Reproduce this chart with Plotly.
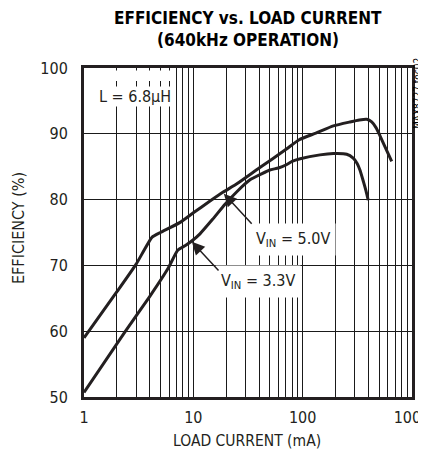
import math
import plotly.graph_objects as go

# ---- data ----
load_5v0 = [1, 2, 3, 4.2, 5, 7.5, 10, 14, 18.6, 25, 40, 70, 93, 132, 191, 271, 330, 385, 428, 470, 510, 560, 652]
eff_5v0 = [59.0, 66.0, 70.2, 74.3, 75.0, 76.5, 78.0, 79.7, 81.1, 82.4, 84.8, 87.6, 89.1, 90.1, 91.2, 91.8, 92.1, 92.2, 91.8, 90.9, 89.7, 88.2, 85.8]

load_3v3 = [1, 2.37, 4.0, 5.9, 7.2, 8.6, 10, 11.5, 15, 19.5, 25, 33, 42, 50, 60, 71, 80, 95, 144, 191, 253, 290, 315, 334, 360, 380, 398]
eff_3v3 = [50.7, 59.9, 65.3, 69.6, 72.3, 73.1, 73.9, 74.8, 77.0, 79.3, 81.2, 83.0, 83.9, 84.5, 84.8, 85.3, 85.8, 86.2, 86.8, 87.0, 86.9, 86.3, 85.5, 84.5, 82.7, 81.3, 79.9]

x_tick_values = [m * 10 ** k for k in range(3) for m in range(1, 10)] + [1000]
x_tick_labels = [str(v) if v in (1, 10, 100, 1000) else "" for v in x_tick_values]
y_tick_values = [50, 60, 70, 80, 90, 100]

NARROW = "DejaVu Sans Condensed, Liberation Sans Narrow, sans-serif"
INK = "#231f20"

# the page body adds an 8px offset; figure is sized so it ends at the window edge
OFF = 8
W, H = 426 - OFF, 458 - OFF
PL, PR, PT, PB = 84, 412, 68, 397   # plot area in page pixels

fig = go.Figure()
fig.add_trace(go.Scatter(x=load_5v0, y=eff_5v0, mode="lines",
                         line=dict(color=INK, width=3, shape="spline", smoothing=0.5),
                         name="VIN = 5.0V", hoverinfo="skip"))
fig.add_trace(go.Scatter(x=load_3v3, y=eff_3v3, mode="lines",
                         line=dict(color=INK, width=3, shape="spline", smoothing=0.5),
                         name="VIN = 3.3V", hoverinfo="skip"))

fig.update_layout(
    width=W, height=H,
    margin=dict(l=PL - OFF, r=W - (PR - OFF), t=PT - OFF, b=H - (PB - OFF), pad=0),
    paper_bgcolor="white", plot_bgcolor="white",
    showlegend=False,
    font=dict(family=NARROW, size=17, color=INK),
)
fig.update_xaxes(type="log", range=[0, 3], tickvals=x_tick_values, ticktext=x_tick_labels,
                 showgrid=True, gridcolor="#1a1a1a", gridwidth=1,
                 showline=True, linecolor=INK, linewidth=3, mirror=True,
                 ticks="", ticklabelstandoff=4, tickfont=dict(size=16, family=NARROW),
                 ticklabeloverflow="allow",
                 zeroline=False, automargin=False)
fig.update_yaxes(range=[50, 100], tickvals=y_tick_values,
                 showgrid=True, gridcolor="#1a1a1a", gridwidth=1,
                 showline=True, linecolor=INK, linewidth=3, mirror=True,
                 ticks="", ticklabelstandoff=10, tickfont=dict(size=16, family=NARROW),
                 ticklabeloverflow="allow",
                 zeroline=False, automargin=False)

TITLE_FONT = dict(family=NARROW, size=17, color="black", weight="bold")

def px2paper(px, py):
    return (px - PL) / (PR - PL), (PB - py) / (PB - PT)

ann = []
# title lines
for txt, py in (("EFFICIENCY vs. LOAD CURRENT", 17.5), ("(640kHz OPERATION)", 40.5)):
    x, y = px2paper(248, py)
    ann.append(dict(text=txt, x=x, y=y, xref="paper", yref="paper", showarrow=False,
                    xanchor="center", yanchor="middle", font=TITLE_FONT))
# axis titles
x, y = px2paper(247, 441)
ann.append(dict(text="LOAD CURRENT (mA)", x=x, y=y, xref="paper", yref="paper", showarrow=False,
                xanchor="center", yanchor="middle", font=dict(size=15.5)))
x, y = px2paper(19, 228)
ann.append(dict(text="EFFICIENCY (%)", x=x, y=y, xref="paper", yref="paper", showarrow=False,
                textangle=-90, xanchor="center", yanchor="middle", font=dict(size=16)))
# side id
x, y = px2paper(418, 94)
ann.append(dict(text="MAX8727 toc02", x=x, y=y, xref="paper", yref="paper", showarrow=False,
                textangle=-90, xanchor="center", yanchor="middle", font=dict(size=10, color="black")))
# L label
x, y = px2paper(135, 96)
ann.append(dict(text="L = 6.8\u00b5H", x=x, y=y, xref="paper", yref="paper", showarrow=False,
                xanchor="center", yanchor="middle", bgcolor="white", borderpad=0, font=dict(size=16)))
# VIN labels
x, y = px2paper(293, 239)
ann.append(dict(text="V<sub>IN</sub> = 5.0V", x=x, y=y, xref="paper", yref="paper", showarrow=False,
                xanchor="center", yanchor="middle", bgcolor="white", borderpad=5, font=dict(size=16)))
x, y = px2paper(258, 281)
ann.append(dict(text="V<sub>IN</sub> = 3.3V", x=x, y=y, xref="paper", yref="paper", showarrow=False,
                xanchor="center", yanchor="middle", bgcolor="white", borderpad=5, font=dict(size=16)))
# arrows (tip on curve, tail near label)
for tip_i, tip_e, tail_i, tail_e in ((19.0, 80.9, 35.2, 76.1), (9.7, 73.6, 17.5, 69.0)):
    ann.append(dict(text="", x=math.log10(tip_i), y=tip_e, xref="x", yref="y",
                    ax=math.log10(tail_i), ay=tail_e, axref="x", ayref="y",
                    showarrow=True, arrowhead=2, arrowsize=1.7, arrowwidth=1.5, arrowcolor=INK))
fig.update_layout(annotations=ann)

# white patch above the L label (gridlines interrupted there in the reference)
x0, y0 = px2paper(100, 81)
x1, y1 = px2paper(172, 70.5)
fig.add_shape(type="rect", xref="paper", yref="paper", x0=x0, x1=x1, y0=y0, y1=y1,
              fillcolor="white", line=dict(width=0), layer="above")

fig.write_html("out.html")
